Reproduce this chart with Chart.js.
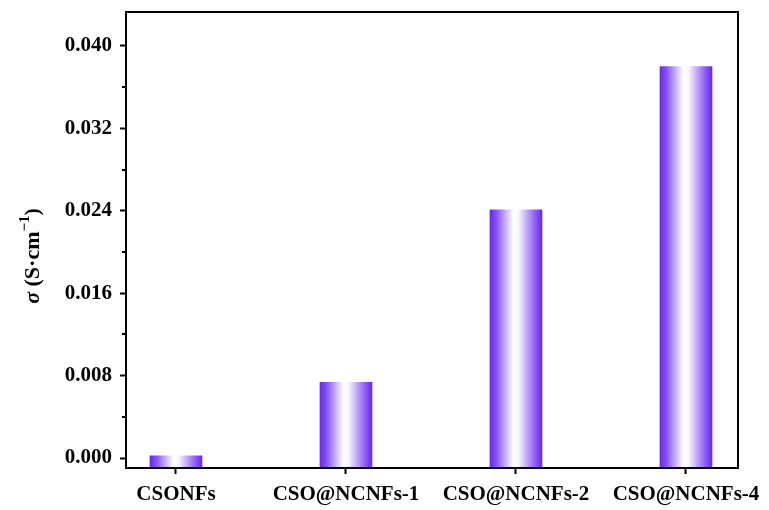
<!DOCTYPE html>
<html>
<head>
<meta charset="utf-8">
<script src="https://cdn.jsdelivr.net/npm/chart.js@4.4.1/dist/chart.umd.min.js"></script>
<style>
  html, body { margin: 0; padding: 0; background: #ffffff; }
  #wrap { width: 769px; height: 510px; position: relative; }
</style>
</head>
<body>
<div id="wrap"><canvas id="c" width="769" height="510"></canvas></div>
<script>
// Conductivity of each sample
const categories = ['CSONFs', 'CSO@NCNFs-1', 'CSO@NCNFs-2', 'CSO@NCNFs-4'];
const conductivity = [0.0002, 0.00735, 0.0241, 0.0380];
const yTicks = [0.000, 0.008, 0.016, 0.024, 0.032, 0.040];
const yMinorTicks = [0.004, 0.012, 0.020, 0.028, 0.036];

const Y_MIN = -0.00097;
const Y_MAX = 0.0433;
const FONT = '"Liberation Serif", "Times New Roman", serif';

// Horizontal purple-white-purple gradient across each bar
function barGradient(ctx) {
  const chart = ctx.chart;
  const xs = chart.scales.x;
  if (!xs || ctx.dataIndex === undefined) return '#7a3cf0';
  const cx = xs.getPixelForValue(ctx.dataIndex);
  if (!isFinite(cx)) return '#7a3cf0';
  const half = 26;
  const g = chart.ctx.createLinearGradient(cx - half, 0, cx + half, 0);
  g.addColorStop(0.00, '#6a28ee');
  g.addColorStop(0.12, '#8550f2');
  g.addColorStop(0.45, '#ffffff');
  g.addColorStop(0.55, '#f8f5ff');
  g.addColorStop(0.88, '#8a58f3');
  g.addColorStop(1.00, '#6a28ee');
  return g;
}

// Box around the plot area, minor y ticks and the y-axis title
const decorations = {
  id: 'decorations',
  afterDraw(chart) {
    const { ctx, chartArea: a, scales } = chart;
    ctx.save();
    ctx.strokeStyle = '#000';
    ctx.lineWidth = 2;
    ctx.strokeRect(a.left, a.top, a.right - a.left, a.bottom - a.top);

    // minor ticks on the left axis
    ctx.beginPath();
    yMinorTicks.forEach(v => {
      const y = Math.round(scales.y.getPixelForValue(v));
      ctx.moveTo(a.left - 4, y);
      ctx.lineTo(a.left, y);
    });
    ctx.stroke();

    // y-axis title: σ (S·cm⁻¹)
    const parts = [
      { t: 'σ', f: 'italic bold 22px ' + FONT, dy: 0 },
      { t: ' (S·cm', f: 'bold 22px ' + FONT, dy: 0 },
      { t: '−1', f: 'bold 15px ' + FONT, dy: -10 },
      { t: ')', f: 'bold 22px ' + FONT, dy: 0 }
    ];
    let total = 0;
    parts.forEach(p => { ctx.font = p.f; p.w = ctx.measureText(p.t).width; total += p.w; });
    ctx.translate(39, 256);
    ctx.rotate(-Math.PI / 2);
    ctx.fillStyle = '#000';
    ctx.textBaseline = 'alphabetic';
    let x = -total / 2;
    parts.forEach(p => { ctx.font = p.f; ctx.fillText(p.t, x, p.dy); x += p.w; });
    ctx.restore();
  }
};

new Chart(document.getElementById('c'), {
  type: 'bar',
  data: {
    datasets: [{
      data: conductivity.map((v, i) => ({ x: i, y: v })),
      base: Y_MIN,
      backgroundColor: barGradient,
      borderWidth: 0,
      barThickness: 52
    }]
  },
  options: {
    responsive: false,
    animation: false,
    devicePixelRatio: 1,
    layout: { padding: { top: 12, right: 31, left: 0, bottom: 0 } },
    plugins: { legend: { display: false }, tooltip: { enabled: false } },
    scales: {
      x: {
        type: 'linear',
        offset: false,
        min: -0.294,
        max: 3.306,
        afterBuildTicks(scale) { scale.ticks = categories.map((_, i) => ({ value: i })); },
        afterFit(scale) { scale.height = 42; scale.paddingLeft = 0; scale.paddingRight = 0; },
        grid: { offset: false, drawOnChartArea: false, drawTicks: true, tickLength: 6, tickWidth: 2, tickColor: '#000' },
        border: { display: true, color: '#000', width: 2 },
        ticks: {
          autoSkip: false,
          maxRotation: 0,
          padding: 8,
          color: '#000',
          font: { family: FONT, size: 21, weight: 'bold' },
          callback: v => categories[v]
        }
      },
      y: {
        min: Y_MIN,
        max: Y_MAX,
        afterBuildTicks(scale) { scale.ticks = yTicks.map(v => ({ value: v })); },
        afterFit(scale) { scale.width = 126; scale.paddingTop = 0; scale.paddingBottom = 0; },
        grid: { drawOnChartArea: false, drawTicks: true, tickLength: 6, tickWidth: 2, tickColor: '#000' },
        border: { display: true, color: '#000', width: 2 },
        ticks: {
          padding: 8,
          color: '#000',
          font: { family: FONT, size: 21, weight: 'bold' },
          callback: v => v.toFixed(3)
        }
      }
    }
  },
  plugins: [decorations]
});
</script>
</body>
</html>
